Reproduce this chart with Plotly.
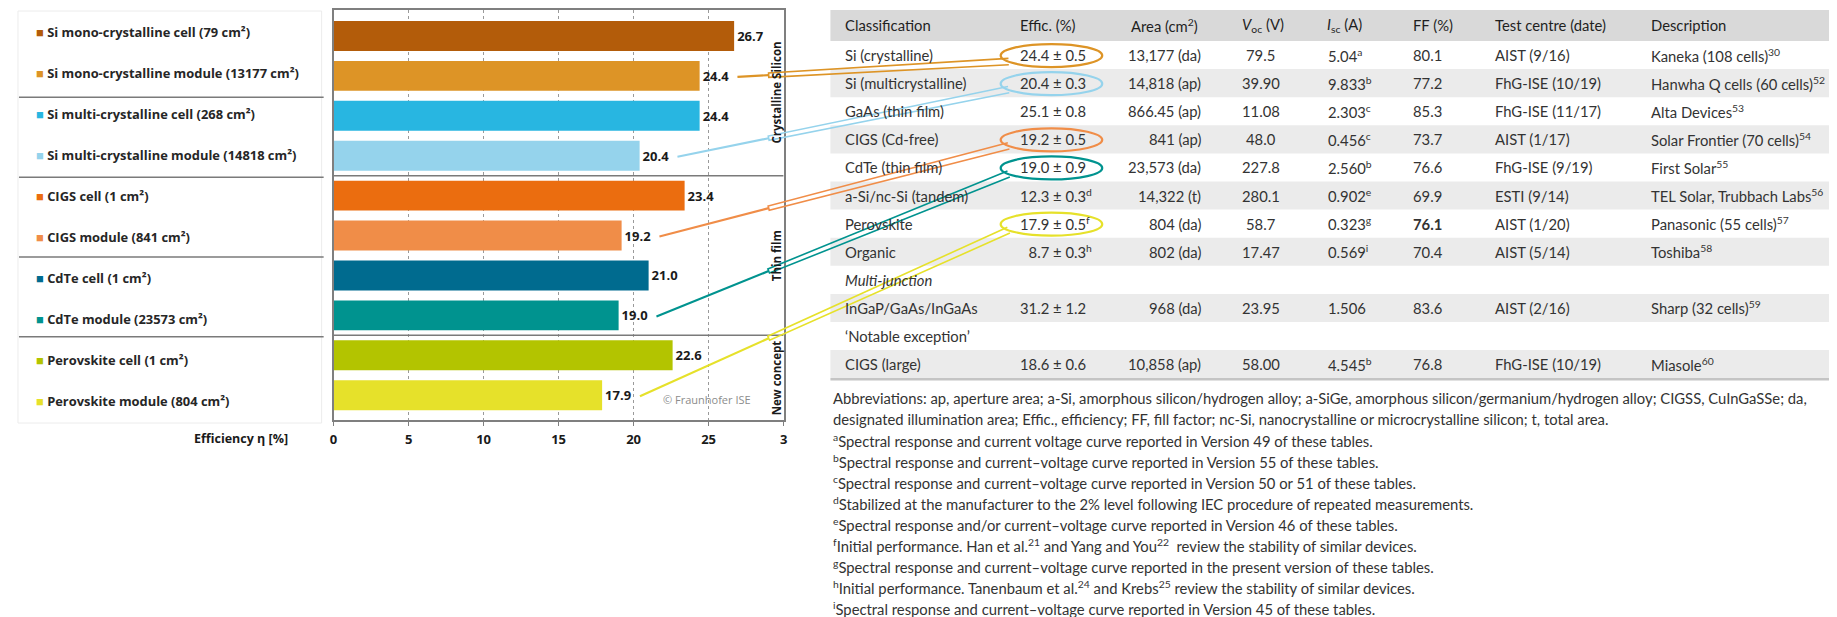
import math
import plotly.graph_objects as go

# ---------------- data ----------------
bar_labels = [
    "Si mono-crystalline cell (79 cm²)",
    "Si mono-crystalline module (13177 cm²)",
    "Si multi-crystalline cell (268 cm²)",
    "Si multi-crystalline module (14818 cm²)",
    "CIGS cell (1 cm²)",
    "CIGS module (841 cm²)",
    "CdTe cell (1 cm²)",
    "CdTe module (23573 cm²)",
    "Perovskite cell (1 cm²)",
    "Perovskite module (804 cm²)",
]
bar_values = [26.7, 24.4, 24.4, 20.4, 23.4, 19.2, 21.0, 19.0, 22.6, 17.9]
bar_colors = ["#B35C0A", "#DD9426", "#28B6E1", "#95D3EC", "#EB6D0F",
              "#F08D48", "#006B8F", "#00938F", "#B3C400", "#E6E12A"]
groups = ["Crystalline Silicon", "Thin film", "New concept"]
group_spans = [(0, 3), (4, 7), (8, 9)]
x_tickvals = [0, 5, 10, 15, 20, 25, 30]
x_ticktext = ["0", "5", "10", "15", "20", "25", "3"]

tbl_header = ["Classification", "Effic. (%)", "Area (cm<sup>2</sup>)", "<i>V</i><sub>oc</sub> (V)",
              "<i>I</i><sub>sc</sub> (A)", "FF (%)", "Test centre (date)", "Description"]
tbl_class = ["Si (crystalline)", "Si (multicrystalline)", "GaAs (thin film)", "CIGS (Cd-free)",
             "CdTe (thin film)", "a-Si/nc-Si (tandem)", "Perovskite", "Organic",
             "<i>Multi-junction</i>", "InGaP/GaAs/InGaAs", "‘Notable exception’", "CIGS (large)"]
tbl_effic = ["24.4 ± 0.5", "20.4 ± 0.3", "25.1 ± 0.8", "19.2 ± 0.5", "19.0 ± 0.9",
             "12.3 ± 0.3<sup>d</sup>", "17.9 ± 0.5<sup>f</sup>", "\u20078.7 ± 0.3<sup>h</sup>",
             "", "31.2 ± 1.2", "", "18.6 ± 0.6"]
tbl_area = ["13,177 (da)", "14,818 (ap)", "866.45 (ap)", "841 (ap)", "23,573 (da)", "14,322 (t)",
            "804 (da)", "802 (da)", "", "968 (da)", "", "10,858 (ap)"]
tbl_voc = ["79.5", "39.90", "11.08", "48.0", "227.8", "280.1", "58.7", "17.47", "", "23.95", "", "58.00"]
tbl_isc = ["5.04<sup>a</sup>", "9.833<sup>b</sup>", "2.303<sup>c</sup>", "0.456<sup>c</sup>",
           "2.560<sup>b</sup>", "0.902<sup>e</sup>", "0.323<sup>g</sup>", "0.569<sup>i</sup>",
           "", "1.506", "", "4.545<sup>b</sup>"]
tbl_ff = ["80.1", "77.2", "85.3", "73.7", "76.6", "69.9", "<b>76.1</b>", "70.4", "", "83.6", "", "76.8"]
tbl_test = ["AIST (9/16)", "FhG-ISE (10/19)", "FhG-ISE (11/17)", "AIST (1/17)", "FhG-ISE (9/19)",
            "ESTI (9/14)", "AIST (1/20)", "AIST (5/14)", "", "AIST (2/16)", "", "FhG-ISE (10/19)"]
tbl_desc = ["Kaneka (108 cells)<sup>30</sup>", "Hanwha Q cells (60 cells)<sup>52</sup>",
            "Alta Devices<sup>53</sup>", "Solar Frontier (70 cells)<sup>54</sup>",
            "First Solar<sup>55</sup>", "TEL Solar, Trubbach Labs<sup>56</sup>",
            "Panasonic (55 cells)<sup>57</sup>", "Toshiba<sup>58</sup>", "",
            "Sharp (32 cells)<sup>59</sup>", "", "Miasole<sup>60</sup>"]
# (bar index, table row) pairs that are linked by callouts
callout_links = [(1, 0), (3, 1), (5, 3), (7, 4), (9, 6)]

footnotes = [
    "Abbreviations: ap, aperture area; a-Si, amorphous silicon/hydrogen alloy; a-SiGe, amorphous silicon/germanium/hydrogen alloy; CIGSS, CuInGaSSe; da,",
    "designated illumination area; Effic., efficiency; FF, fill factor; nc-Si, nanocrystalline or microcrystalline silicon; t, total area.",
    "<sup>a</sup>Spectral response and current voltage curve reported in Version 49 of these tables.",
    "<sup>b</sup>Spectral response and current–voltage curve reported in Version 55 of these tables.",
    "<sup>c</sup>Spectral response and current–voltage curve reported in Version 50 or 51 of these tables.",
    "<sup>d</sup>Stabilized at the manufacturer to the 2% level following IEC procedure of repeated measurements.",
    "<sup>e</sup>Spectral response and/or current–voltage curve reported in Version 46 of these tables.",
    "<sup>f</sup>Initial performance. Han et al.<sup>21</sup> and Yang and You<sup>22</sup>  review the stability of similar devices.",
    "<sup>g</sup>Spectral response and current–voltage curve reported in the present version of these tables.",
    "<sup>h</sup>Initial performance. Tanenbaum et al.<sup>24</sup> and Krebs<sup>25</sup> review the stability of similar devices.",
    "<sup>i</sup>Spectral response and current–voltage curve reported in Version 45 of these tables.",
]

# ---------------- geometry helpers (page pixel coords -> paper) ----------------
W, H = 1837, 617
OFF = 8  # default body margin of the html page
def X(p): return (p - OFF) / W
def Y(p): return 1 - (p - OFF) / H

PLOT_L, PLOT_R, PLOT_T, PLOT_B = 331, 783, 10, 420
X_RANGE = (0, 30)
Y_RANGE = (9.62, -0.65)

def data_px(v, i):
    xp = PLOT_L + (v - X_RANGE[0]) / (X_RANGE[1] - X_RANGE[0]) * (PLOT_R - PLOT_L)
    yp = PLOT_T + (i - Y_RANGE[1]) / (Y_RANGE[0] - Y_RANGE[1]) * (PLOT_B - PLOT_T)
    return xp, yp

CH_FONT = "Open Sans, Noto Sans, sans-serif"
TB_FONT = "Lato, Noto Sans, sans-serif"
TB_SIZE = 14.8

TBL_L, TBL_R = 830, 1845
HDR_T, ROW_T, ROW_H = 10, 41, 28.1
def row_c(r): return ROW_T + ROW_H * (r + 0.5)

shapes = []
annotations = []

def ann(x, y, text, size=TB_SIZE, anchor="left", color="#262626", family=TB_FONT, weight="normal", angle=0):
    annotations.append(dict(x=X(x), y=Y(y), xref="paper", yref="paper", text=text, showarrow=False,
                            xanchor=anchor, yanchor="middle", textangle=angle,
                            font=dict(family=family, size=size, color=color, weight=weight)))

def rect(x0, y0, x1, y1, fill, line=None, lw=0, layer="below"):
    shapes.append(dict(type="rect", xref="paper", yref="paper", x0=X(x0), x1=X(x1), y0=Y(y1), y1=Y(y0),
                       fillcolor=fill, line=dict(color=line or fill, width=lw), layer=layer))

# ---------------- bar chart ----------------
fig = go.Figure(go.Bar(
    x=bar_values, y=list(range(len(bar_values))), orientation="h", width=0.75,
    marker=dict(color=bar_colors, line=dict(width=0)),
    text=[f"{v:.1f}" for v in bar_values], textposition="outside",
    textfont=dict(family=CH_FONT, size=13, color="#1a1a1a", weight="bold"),
    constraintext="none", cliponaxis=False, hoverinfo="skip", showlegend=False))

# group separators in the chart
for (a, b) in group_spans[:-1]:
    shapes.append(dict(type="line", xref="x", yref="y", x0=X_RANGE[0], x1=X_RANGE[1], y0=b + 0.5, y1=b + 0.5,
                       line=dict(color="#7a7a7a", width=1.5), layer="above"))

# rotated group labels
for g, (a, b) in zip(groups, group_spans):
    y0 = data_px(0, a - 0.5)[1] if a > 0 else PLOT_T
    y1 = data_px(0, b + 0.5)[1] if b < len(bar_values) - 1 else PLOT_B
    ann(776, (y0 + y1) / 2, g, size=11.5, anchor="center", color="#1a1a1a", family=CH_FONT,
        weight="bold", angle=-90)

ann(706, 399, "© Fraunhofer ISE", size=11, anchor="center", color="#8c8c8c", family=CH_FONT)
ann(287, 438, "Efficiency η [%]", size=12.5, anchor="right", color="#1a1a1a", family=CH_FONT, weight="bold")

# ---------------- label panel ----------------
rect(14, 11, 319, 423, "#ffffff", line="#ececec", lw=1)
for i in range(1, len(bar_labels), 2):
    if i + 1 < len(bar_labels):
        yy = data_px(0, i + 0.5)[1] + 1.5
        shapes.append(dict(type="line", xref="paper", yref="paper", x0=X(15), x1=X(321), y0=Y(yy), y1=Y(yy),
                           line=dict(color="#7a7a7a", width=1.5)))
for i, (lab, col) in enumerate(zip(bar_labels, bar_colors)):
    ypx = 32 + 41 * i
    ann(30, ypx, f"<span style='color:{col}'>■</span> {lab}", size=12.9, color="#262626",
        family=CH_FONT, weight="bold")

# ---------------- table ----------------
rect(TBL_L, HDR_T, TBL_R, ROW_T, "#d9d9d9")
n_rows = len(tbl_class)
for r in range(n_rows):
    if r % 2 == 1:
        rect(TBL_L, ROW_T + ROW_H * r, TBL_R, ROW_T + ROW_H * (r + 1), "#ebebeb")
yb = ROW_T + ROW_H * n_rows
shapes.append(dict(type="line", xref="paper", yref="paper", x0=X(TBL_L), x1=X(TBL_R), y0=Y(yb + 1), y1=Y(yb + 1),
                   line=dict(color="#c4c4c4", width=2.5)))

hdr_x = [843, 1018, 1130, 1241, 1327, 1413, 1495, 1652]
for hx, h in zip(hdr_x, tbl_header):
    ann(hx, (HDR_T + ROW_T) / 2, h, color="#1f1f1f")

columns = [
    (tbl_class, 843, "left"), (tbl_effic, 1018, "left"), (tbl_area, 1204, "right"),
    (tbl_voc, 1262, "center"), (tbl_isc, 1328, "left"), (tbl_ff, 1413, "left"),
    (tbl_test, 1495, "left"), (tbl_desc, 1652, "left"),
]
for col, cx, anchor in columns:
    for r, t in enumerate(col):
        if t:
            ann(cx, row_c(r), t, anchor=anchor, color="#333333")

# ---------------- callouts ----------------
for bi, tr in callout_links:
    col = bar_colors[bi]
    bx, by = data_px(bar_values[bi], bi)
    sx, sy = bx + 38, by + 1
    cx, cy, rx, ry = 1052, row_c(tr) + 0.5, 51, 11.5
    ex, ey = 1009, cy + 6
    t = (768 - sx) / (ex - sx)
    mx, my = 768, sy + t * (ey - sy)
    L = math.hypot(ex - sx, ey - sy)
    nx, ny = -(ey - sy) / L, (ex - sx) / L
    shapes.append(dict(type="path", xref="paper", yref="paper",
                       path=f"M {X(sx)},{Y(sy)} L {X(mx)},{Y(my)}",
                       line=dict(color=col, width=2.2), layer="above"))
    d1, d2 = 2.2, 3.2
    p = (f"M {X(ex + nx * d2)},{Y(ey + ny * d2)} L {X(mx + nx * d1)},{Y(my + ny * d1)} "
         f"L {X(mx - nx * d1)},{Y(my - ny * d1)} L {X(ex - nx * d2)},{Y(ey - ny * d2)}")
    shapes.append(dict(type="path", xref="paper", yref="paper", path=p,
                       line=dict(color=col, width=1.6), layer="above"))
    shapes.append(dict(type="circle", xref="paper", yref="paper", x0=X(cx - rx), x1=X(cx + rx),
                       y0=Y(cy + ry), y1=Y(cy - ry), line=dict(color=col, width=2.2), layer="above"))

# ---------------- footnotes ----------------
for k, fn in enumerate(footnotes):
    ann(831, 398 + 21.0 * k, fn, color="#333333")

fig.update_layout(
    width=W, height=H, margin=dict(l=0, r=0, t=0, b=0),
    paper_bgcolor="white", plot_bgcolor="rgba(0,0,0,0)",
    bargap=0.25, shapes=shapes, annotations=annotations, showlegend=False,
    xaxis=dict(domain=[X(PLOT_L), X(PLOT_R)], range=list(X_RANGE), tickvals=x_tickvals, ticktext=x_ticktext,
               showgrid=True, gridcolor="#9a9a9a", griddash="dot", gridwidth=1, zeroline=False,
               showline=True, mirror=True, linecolor="#7f7f7f", linewidth=1.5,
               ticks="outside", ticklen=4, tickcolor="#7f7f7f", ticklabelstandoff=3,
               tickfont=dict(family=CH_FONT, size=13, color="#1a1a1a", weight="bold"), fixedrange=True),
    yaxis=dict(domain=[Y(PLOT_B), Y(PLOT_T)], range=list(Y_RANGE), showticklabels=False, showgrid=False,
               zeroline=False, showline=True, mirror=True, linecolor="#7f7f7f", linewidth=1.5, ticks="",
               fixedrange=True),
)

fig.write_html("out.html")
